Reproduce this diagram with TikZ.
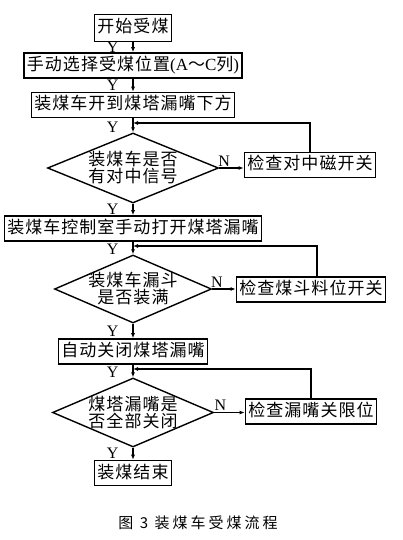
\documentclass[tikz,border=0pt]{standalone}
\usepackage{fontspec}
\setmainfont{Liberation Serif}
\newfontfamily\cjk[LetterSpace=6]{Noto Sans CJK SC}
\newfontfamily\capfont[LetterSpace=20]{Noto Sans CJK SC}
\usetikzlibrary{shapes.geometric,arrows.meta,positioning}

\newlength{\du}
\setlength{\du}{1pt}
\definecolor{dialinecolor}{rgb}{0.000000, 0.000000, 0.000000}
\definecolor{diafillcolor}{rgb}{1.000000, 1.000000, 1.000000}
% centred line of a decision, may run over the edge
\newcommand{\diatext}[1]{\makebox[0pt]{#1}}

\tikzset{
  diabox/.style={draw=dialinecolor, fill=diafillcolor, line width=1.6\du,
    inner xsep=3\du, inner ysep=0\du, minimum height=25\du,
    text height=13\du, text depth=3\du, font=\cjk\fontsize{17}{17}\selectfont},
  diadiamond/.style={diamond, draw=dialinecolor, fill=diafillcolor, line width=1.4\du,
    inner sep=0\du, align=center, font=\cjk\fontsize{17}{17}\selectfont},
  dialine/.style={draw=dialinecolor, line width=1.2\du, -{Latex[length=5pt,width=4pt]}},
  dialabel/.style={inner sep=1\du, text=dialinecolor, font=\fontsize{16}{16}\selectfont}
}

\begin{document}
\begin{tikzpicture}[x=1\du, y=1\du, yscale=-1]
\useasboundingbox (0,0) rectangle (402,540);
% steps
\node[diabox, minimum height=27\du] (start) at (133,28) {开始受煤};
\node[diabox] (select) at (133,65.5) {手动选择受煤位置{\rmfamily (A}～{\rmfamily C}列{\rmfamily )}};
\node[diabox] (move) at (133,105) {装煤车开到煤塔漏嘴下方};
\node[diadiamond, minimum width=171\du, minimum height=70\du] (check1) at (133,168) {\diatext{装煤车是否}\\\diatext{有对中信号}};
\node[diabox] (fix1) at (310,165) {检查对中磁开关};
\node[diabox] (open) at (133,228.5) {装煤车控制室手动打开煤塔漏嘴};
\node[diadiamond, minimum width=157\du, minimum height=68\du] (check2) at (133,289) {\diatext{装煤车漏斗}\\\diatext{是否装满}};
\node[diabox] (fix2) at (311,289.5) {检查煤斗料位开关};
\node[diabox] (close) at (133,351.5) {自动关闭煤塔漏嘴};
\node[diadiamond, minimum width=161\du, minimum height=69\du] (check3) at (133,412.5) {\diatext{煤塔漏嘴是}\\\diatext{否全部关闭}};
\node[diabox] (fix3) at (311,411.5) {检查漏嘴关限位};
\node[diabox] (finish) at (133,473) {装煤结束};
\node[font=\capfont\fontsize{15}{15}\selectfont] (caption) at (198,523) {图 3 装煤车受煤流程};
% loop back points
\coordinate (back1) at (133,123);
\coordinate (back2) at (133,246);
\coordinate (back3) at (133,369);
% flow
\draw[dialine] (start) -- node[dialabel, left=13pt]{Y} (select);
\draw[dialine] (select) -- node[dialabel, left=13pt]{Y} (move);
\draw[dialine] (move) -- node[dialabel, left=13pt, pos=0.65]{Y} (check1);
\draw[dialine] (check1) -- node[dialabel, left=13pt]{Y} (open);
\draw[dialine] (open) -- node[dialabel, left=13pt, pos=0.6]{Y} (check2);
\draw[dialine] (check2) -- node[dialabel, left=13pt]{Y} (close);
\draw[dialine] (close) -- node[dialabel, left=13pt, pos=0.6]{Y} (check3);
\draw[dialine] (check3) -- node[dialabel, left=13pt]{Y} (finish);
% no branches
\draw[dialine] (check1.east) -- node[dialabel, above, pos=0.2]{N} (check1.east -| fix1.west);
\draw[dialine] (check2.east) -- node[dialabel, above, pos=0.2]{N} (check2.east -| fix2.west);
\draw[dialine] (check3.east) -- node[dialabel, above, pos=0.2]{N} (check3.east -| fix3.west);
\draw[dialine] (fix1.north) |- (back1);
\draw[dialine] ([xshift=6\du]fix2.north) |- (back2);
\draw[dialine] (fix3.north) |- (back3);
\end{tikzpicture}
\end{document}
